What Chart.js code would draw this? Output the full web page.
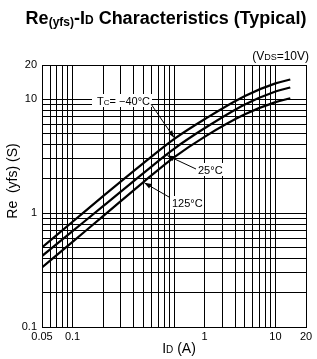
<!DOCTYPE html>
<html>
<head>
<meta charset="utf-8">
<script src="https://cdn.jsdelivr.net/npm/chart.js@4.4.0/dist/chart.umd.min.js"></script>
<style>
html, body { margin: 0; padding: 0; background: #fff; }
#wrap { width: 317px; height: 359px; position: relative; }
</style>
</head>
<body>
<div id="wrap"><canvas id="yfsChart"></canvas></div>
<script>
// drain current ID (A) and |yfs| (S)
var currents = [0.05, 0.1, 0.2, 0.5, 1, 2, 5, 10, 14];
var yfsM40 = [0.50, 0.84, 1.41, 2.75, 4.47, 6.68, 10.7, 13.8, 14.9];
var yfs25 = [0.42, 0.695, 1.15, 2.25, 3.67, 5.56, 9.0, 11.7, 12.7];
var yfs125 = [0.333, 0.56, 0.94, 1.875, 3.09, 4.68, 7.38, 9.44, 10.2];
var seriesNames = ['Tc= \u221240\u00b0C', '25\u00b0C', '125\u00b0C'];

// grid lines and tick labels
var xGrid = [0.05, 0.06, 0.07, 0.08, 0.09, 0.1, 0.2, 0.3, 0.4, 0.5, 0.6, 0.7, 0.8, 0.9,
             1, 2, 3, 4, 5, 6, 7, 8, 9, 10, 20];
var yGrid = [0.1, 0.2, 0.3, 0.4, 0.5, 0.6, 0.7, 0.8, 0.9,
             1, 2, 3, 4, 5, 6, 7, 8, 9, 10, 20];
var xTickValues = [0.05, 0.1, 2, 10, 20];
var xTickLabels = ['0.05', '0.1', '1', '10', '20'];
var yTickValues = [0.1, 1, 10, 20];
var yTickLabels = ['0.1', '1', '10', '20'];

var FONT = '"Liberation Sans", Arial, Helvetica, sans-serif';

function toPoints(ys) {
    return currents.map(function (c, i) { return { x: c, y: ys[i] }; });
}

function labelFor(values, labels) {
    return function (v) {
        for (var i = 0; i < values.length; i++) {
            if (Math.abs(values[i] - v) / values[i] < 1e-6) return labels[i];
        }
        return '';
    };
}

// draws a run of text pieces with different sizes / offsets
function richText(ctx, parts, x, y, align) {
    var w = 0;
    parts.forEach(function (p) { ctx.font = p.f; w += ctx.measureText(p.t).width; });
    var cx = align === 'center' ? x - w / 2 : (align === 'right' ? x - w : x);
    ctx.textAlign = 'left';
    ctx.textBaseline = 'alphabetic';
    parts.forEach(function (p) {
        ctx.font = p.f;
        ctx.fillText(p.t, cx, y + (p.dy || 0));
        cx += ctx.measureText(p.t).width;
    });
    return w;
}

// y pixel of a dataset's curve at a given x value (linear between points)
function curveY(chart, di, xVal) {
    var pts = chart.getDatasetMeta(di).data;
    var px = chart.scales.x.getPixelForValue(xVal);
    for (var i = 1; i < pts.length; i++) {
        if (px <= pts[i].x) {
            var t = (px - pts[i - 1].x) / (pts[i].x - pts[i - 1].x);
            return { x: px, y: pts[i - 1].y + t * (pts[i].y - pts[i - 1].y) };
        }
    }
    return { x: px, y: pts[pts.length - 1].y };
}

function arrow(ctx, x0, y0, x1, y1) {
    ctx.beginPath();
    ctx.moveTo(x0, y0);
    ctx.lineTo(x1, y1);
    ctx.stroke();
    var a = Math.atan2(y1 - y0, x1 - x0);
    var len = 7, half = 2.6;
    ctx.beginPath();
    ctx.moveTo(x1, y1);
    ctx.lineTo(x1 - len * Math.cos(a) + half * Math.sin(a), y1 - len * Math.sin(a) - half * Math.cos(a));
    ctx.lineTo(x1 - len * Math.cos(a) - half * Math.sin(a), y1 - len * Math.sin(a) + half * Math.cos(a));
    ctx.closePath();
    ctx.fill();
}

var textPlugin = {
    id: 'texts',
    afterDraw: function (chart) {
        var ctx = chart.ctx;
        ctx.save();
        ctx.fillStyle = '#000';
        ctx.strokeStyle = '#000';

        // title
        var big = 'bold 18px ' + FONT, sm = 'bold 12px ' + FONT;
        richText(ctx, [
            { t: 'Re', f: big }, { t: '(yfs)', f: sm, dy: 2 }, { t: '-I', f: big },
            { t: 'D', f: sm }, { t: ' Characteristics (Typical)', f: big }
        ], 166, 24, 'center');

        // condition
        richText(ctx, [
            { t: '(V', f: '12px ' + FONT }, { t: 'DS', f: '9px ' + FONT }, { t: '=10V)', f: '12px ' + FONT }
        ], 309, 60, 'right');

        // axis titles
        richText(ctx, [
            { t: 'I', f: '14px ' + FONT }, { t: 'D', f: '10px ' + FONT }, { t: ' (A)', f: '14px ' + FONT }
        ], 179, 353, 'center');

        ctx.save();
        ctx.translate(17, 181);
        ctx.rotate(-Math.PI / 2);
        ctx.font = '14px ' + FONT;
        ctx.textAlign = 'center';
        ctx.textBaseline = 'alphabetic';
        ctx.fillText('Re  (yfs) (S)', 0, 0);
        ctx.restore();

        // curve labels with leaders
        ctx.lineWidth = 1;
        var tipA = curveY(chart, 0, 1.0);
        var tipB = curveY(chart, 1, 0.86);
        var tipC = curveY(chart, 2, 0.51);

        ctx.fillStyle = '#fff';
        ctx.fillRect(92, 94, 60, 13);
        ctx.fillRect(195, 163, 30, 13);
        ctx.fillRect(170, 196, 34, 13);
        ctx.fillStyle = '#000';

        arrow(ctx, 151, 104, tipA.x, tipA.y - 1.5);
        arrow(ctx, 196, 169, tipB.x, tipB.y + 1.5);
        arrow(ctx, 169, 197, tipC.x, tipC.y + 1.5);

        richText(ctx, [
            { t: 'T', f: '11px ' + FONT }, { t: 'C', f: '8px ' + FONT },
            { t: '= ' + seriesNames[0].slice(4), f: '11px ' + FONT }
        ], 97, 105, 'left');
        richText(ctx, [{ t: seriesNames[1], f: '11px ' + FONT }], 198, 174, 'left');
        richText(ctx, [{ t: seriesNames[2], f: '11px ' + FONT }], 172, 207, 'left');

        ctx.restore();
    }
};

var lineStyle = {
    borderColor: '#000',
    borderWidth: 2.2,
    pointRadius: 0,
    fill: false,
    cubicInterpolationMode: 'monotone'
};

new Chart(document.getElementById('yfsChart'), {
    type: 'line',
    data: {
        datasets: [
            Object.assign({ label: seriesNames[0], data: toPoints(yfsM40) }, lineStyle),
            Object.assign({ label: seriesNames[1], data: toPoints(yfs25) }, lineStyle),
            Object.assign({ label: seriesNames[2], data: toPoints(yfs125) }, lineStyle)
        ]
    },
    options: {
        responsive: true,
        maintainAspectRatio: false,
        animation: false,
        layout: { padding: { left: 0, top: 65, right: 11, bottom: 0 } },
        plugins: { legend: { display: false }, title: { display: false }, tooltip: { enabled: false } },
        scales: {
            x: {
                type: 'logarithmic',
                min: 0.05,
                max: 20,
                afterBuildTicks: function (scale) {
                    scale.ticks = xGrid.map(function (v) { return { value: v }; });
                },
                afterFit: function (scale) { scale.height = 32; },
                grid: { color: '#000', lineWidth: 1, drawTicks: false },
                border: { display: true, color: '#000', width: 1 },
                ticks: {
                    autoSkip: false,
                    maxRotation: 0,
                    padding: 3,
                    color: '#000',
                    font: { family: FONT, size: 11 },
                    callback: labelFor(xTickValues, xTickLabels)
                }
            },
            y: {
                type: 'logarithmic',
                min: 0.1,
                max: 20,
                afterBuildTicks: function (scale) {
                    scale.ticks = yGrid.map(function (v) { return { value: v }; });
                },
                afterFit: function (scale) { scale.width = 42; },
                grid: { color: '#000', lineWidth: 1, drawTicks: false },
                border: { display: true, color: '#000', width: 1 },
                ticks: {
                    autoSkip: false,
                    padding: 5,
                    color: '#000',
                    font: { family: FONT, size: 11 },
                    callback: labelFor(yTickValues, yTickLabels)
                }
            }
        }
    },
    plugins: [textPlugin]
});
</script>
</body>
</html>
